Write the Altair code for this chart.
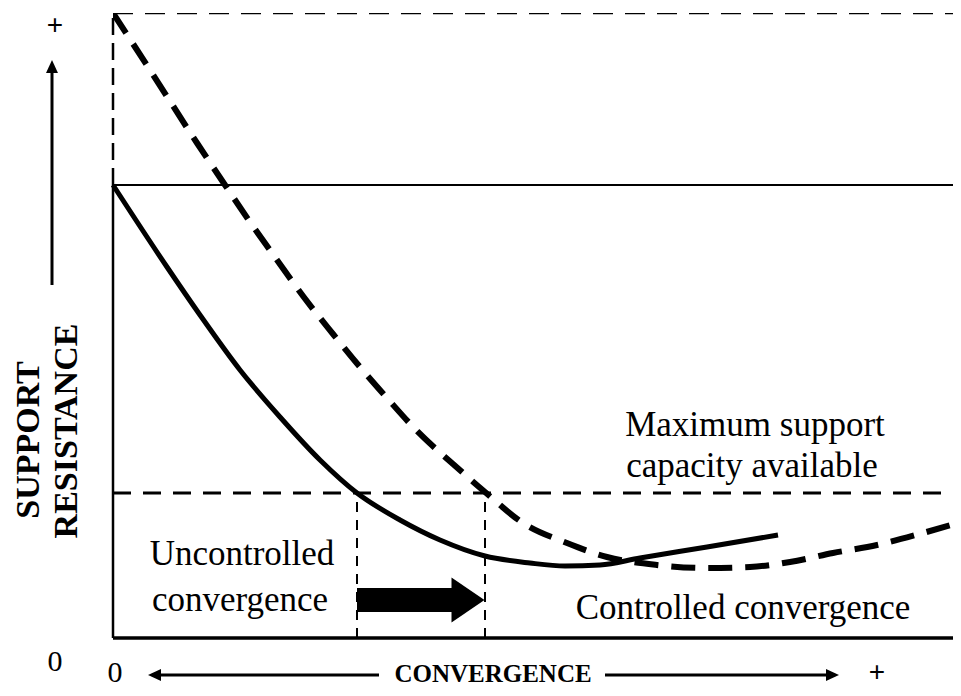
import altair as alt
import pandas as pd

# Coordinate units: x = convergence, y = support resistance (arbitrary units)
X_MAX = 848      # right end of the drawn lines (image edge)
X_VIEW = 840     # visible plot width
Y_MAX = 625

# Support resistance curve (solid) and alternative curve (dashed)
solid_x = [0, 54, 87, 127, 167, 207, 244, 287, 327, 372, 417, 452, 487, 527, 594, 665]
solid_y = [453, 371, 323, 268, 221, 178, 145, 118, 98, 82, 75, 72, 73, 80, 91, 103]

dashed_x = [0, 37, 84, 112, 137, 164, 190, 220, 247, 274, 304, 340, 372, 410, 454, 494, 544, 594, 637, 677, 720, 764, 810, 848]
dashed_y = [625, 568, 495, 453, 416, 378, 342, 304, 271, 240, 207, 174, 146, 115, 95, 81, 73, 70, 71, 76, 85, 93, 105, 116]

# Reference levels
top_level = 625          # top dashed limit
initial_level = 453      # solid horizontal line
max_capacity = 145       # maximum support capacity available
cross_x = [244, 372]     # convergence at which curves reach max capacity

# Labels
labels_text = ["Maximum support", "capacity available", "Uncontrolled", "convergence", "Controlled convergence"]
labels_x = [642, 639, 129, 127, 630]
labels_y = [213, 172, 84, 38, 30]

zero_text = ["0", "0"]
zero_x = [-58, 2]
zero_y = [-24, -35]

plus_text = ["+", "+"]
plus_x = [-58, 764]
plus_y = [612, -35]

y_title = ["SUPPORT", "RESISTANCE"]
y_title_x = [-84, -46]
y_title_y = [198, 207]

x_title = ["CONVERGENCE"]
x_title_x = [380]
x_title_y = [-44]

# Arrows
big_arrow_y = 38
big_arrow_start = 244
big_arrow_head = 355
y_arrow_x = -61
y_arrow_bottom, y_arrow_top = 353, 565
x_arrow_y = -37
x_arrow_left = [48, 266]
x_arrow_right = [492, 713]

xs = alt.Scale(domain=[0, X_VIEW], nice=False, zero=False)
ys = alt.Scale(domain=[0, Y_MAX], nice=False, zero=False)

def X(field="x"):
    return alt.X(f"{field}:Q", scale=xs, axis=None)

def Y(field="y"):
    return alt.Y(f"{field}:Q", scale=ys, axis=None)

solid_df = pd.DataFrame({"x": solid_x, "y": solid_y})
dashed_df = pd.DataFrame({"x": dashed_x, "y": dashed_y})

solid_curve = alt.Chart(solid_df).mark_line(color="black", strokeWidth=5, interpolate="monotone").encode(x=X(), y=Y())
dashed_curve = alt.Chart(dashed_df).mark_line(color="black", strokeWidth=6, strokeDash=[24, 13],
                                              interpolate="monotone", clip=True).encode(x=X(), y=Y())

def hrule(y, x0, x1, width, dash=None, clip=False):
    kw = dict(color="black", strokeWidth=width, strokeCap="butt")
    if dash:
        kw["strokeDash"] = dash
    if clip:
        kw["clip"] = True
    return alt.Chart(pd.DataFrame({"y": [y], "x": [x0], "x2": [x1]})).mark_rule(**kw).encode(
        x=X(), x2="x2:Q", y=Y())

def vrule(xv, y0, y1, width, dash=None):
    kw = dict(color="black", strokeWidth=width, strokeCap="butt")
    if dash:
        kw["strokeDash"] = dash
    return alt.Chart(pd.DataFrame({"x": xv if isinstance(xv, list) else [xv],
                                   "y": y0, "y2": y1})).mark_rule(**kw).encode(
        x=X(), y=Y(), y2="y2:Q")

top_line = hrule(top_level, 0, X_MAX, 2.5, [20, 12], clip=True)
left_dashed = vrule(0, initial_level, top_level, 2.5, [17, 8])
init_line = hrule(initial_level, 0, X_MAX, 2, clip=True)
cap_line = hrule(max_capacity, 0, X_MAX, 3, [18, 12], clip=True)
left_axis = vrule(0, 0, initial_level, 2.5)
bottom_axis = hrule(0, 0, X_MAX, 3.5)
cross_lines = vrule(cross_x, 0, max_capacity, 2, [10, 8])

# Big arrow
shaft = hrule(big_arrow_y, big_arrow_start, big_arrow_head - 15, 24)
head = alt.Chart(pd.DataFrame({"x": [big_arrow_head], "y": [big_arrow_y]})).mark_point(
    shape="M-0.733,-1L0.733,0L-0.733,1Z", size=2025, filled=True, color="black", opacity=1, strokeWidth=0
).encode(x=X(), y=Y())

# Y-axis arrow
y_shaft = vrule(y_arrow_x, y_arrow_bottom, y_arrow_top + 1, 3)
y_head = alt.Chart(pd.DataFrame({"x": [y_arrow_x], "y": [y_arrow_top + 6.5]})).mark_point(
    shape="M0,-1L0.92,1L-0.92,1Z", size=169, filled=True, color="black", opacity=1, strokeWidth=0
).encode(x=X(), y=Y())

# X-axis arrows
xl_shaft = hrule(x_arrow_y, x_arrow_left[0] - 1, x_arrow_left[1], 3)
xl_head = alt.Chart(pd.DataFrame({"x": [x_arrow_left[0] - 6.5], "y": [x_arrow_y]})).mark_point(
    shape="M-1,0L1,-0.92L1,0.92Z", size=169, filled=True, color="black", opacity=1, strokeWidth=0
).encode(x=X(), y=Y())
xr_shaft = hrule(x_arrow_y, x_arrow_right[0], x_arrow_right[1] + 1, 3)
xr_head = alt.Chart(pd.DataFrame({"x": [x_arrow_right[1] + 6.5], "y": [x_arrow_y]})).mark_point(
    shape="M1,0L-1,-0.92L-1,0.92Z", size=169, filled=True, color="black", opacity=1, strokeWidth=0
).encode(x=X(), y=Y())

labels = alt.Chart(pd.DataFrame({"x": labels_x, "y": labels_y, "t": labels_text})).mark_text(
    font="Liberation Serif", fontSize=35, align="center", baseline="middle", color="black"
).encode(x=X(), y=Y(), text="t:N")

zeros = alt.Chart(pd.DataFrame({"x": zero_x, "y": zero_y, "t": zero_text})).mark_text(
    font="Liberation Serif", fontSize=30, align="center", baseline="middle", color="black"
).encode(x=X(), y=Y(), text="t:N")

pluses = alt.Chart(pd.DataFrame({"x": plus_x, "y": plus_y, "t": plus_text})).mark_text(
    font="Liberation Sans", fontSize=28, align="center", baseline="middle", color="black"
).encode(x=X(), y=Y(), text="t:N")

y_titles = alt.Chart(pd.DataFrame({"x": y_title_x, "y": y_title_y, "t": y_title})).mark_text(
    font="Liberation Serif", fontSize=34, fontWeight="bold", angle=270, align="center", baseline="middle", color="black"
).encode(x=X(), y=Y(), text="t:N")

x_titles = alt.Chart(pd.DataFrame({"x": x_title_x, "y": x_title_y, "t": x_title})).mark_text(
    font="Liberation Serif", fontSize=25, fontWeight="bold", align="center", baseline="alphabetic", color="black"
).encode(x=X(), y=Y(), text="t:N")

chart = alt.layer(
    top_line, left_dashed, init_line, cap_line, left_axis, bottom_axis, cross_lines,
    solid_curve, dashed_curve, shaft, head, y_shaft, y_head, xl_shaft, xl_head, xr_shaft, xr_head,
    labels, zeros, pluses, y_titles, x_titles
).properties(
    width=X_VIEW, height=Y_MAX,
    autosize=alt.AutoSizeParams(type="none"),
    padding={"left": 105, "top": 5, "right": 0, "bottom": 50},
    background="white",
).configure_view(stroke=None)

chart.save("out.html", embed_options={"renderer": "svg", "actions": False})
